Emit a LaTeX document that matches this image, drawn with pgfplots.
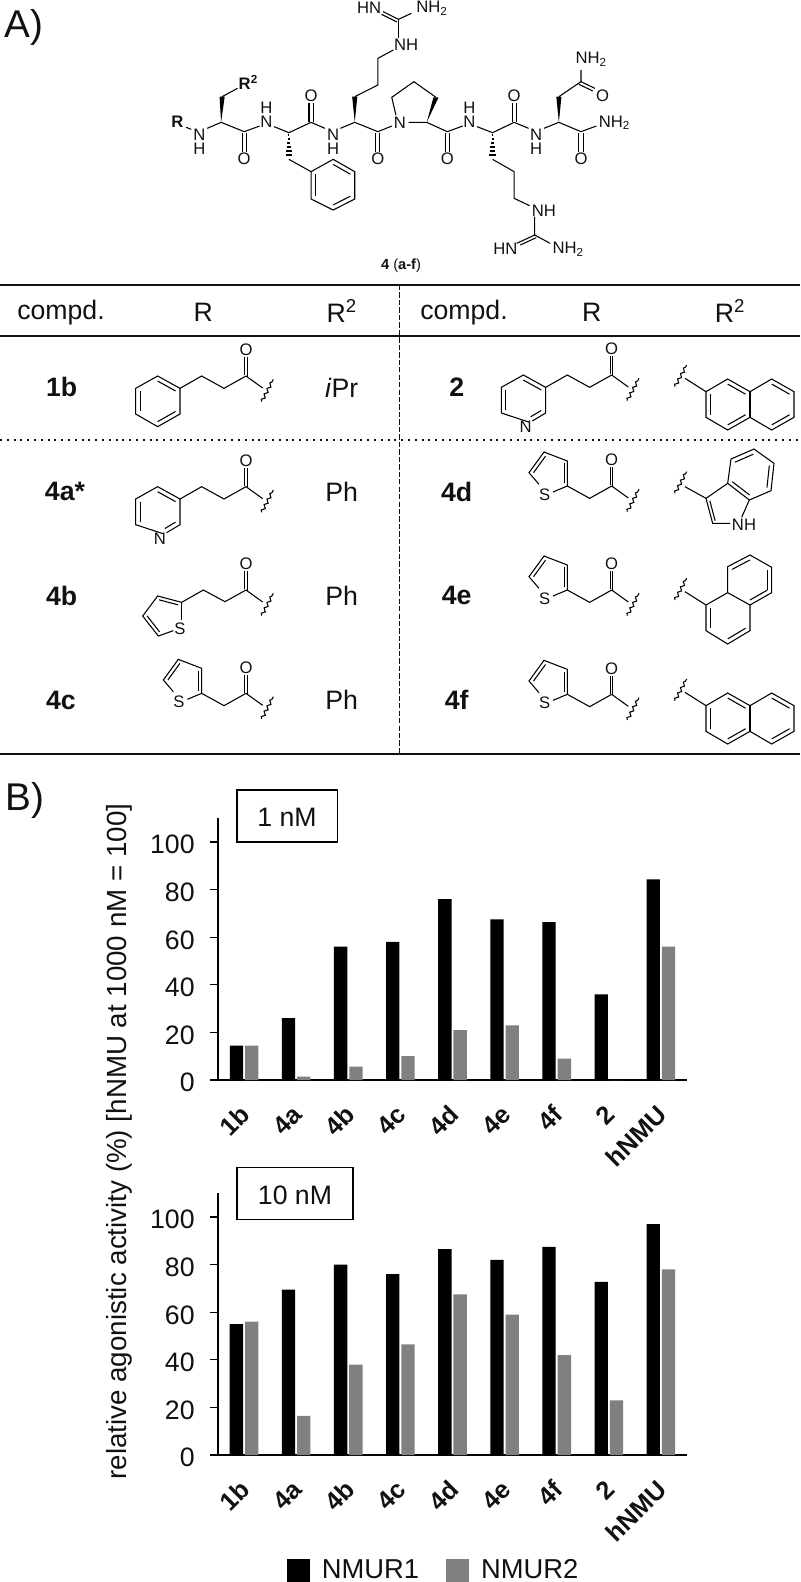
\documentclass[border=0pt]{standalone}
\usepackage{fontspec}
\setmainfont{Liberation Sans}
\usepackage{pgfplots}
\pgfplotsset{compat=1.18}
\usetikzlibrary{calc,decorations.pathmorphing}
\newcommand\fs[1]{\fontsize{#1}{#1}\selectfont}
\definecolor{barg}{HTML}{808080}
\definecolor{txt}{HTML}{111111}
\pgfplotsset{
  pan/.style={
    scale only axis, width=351.75pt, height=196.35pt,
    xmin=-0.5, xmax=8.5, ymin=0, ymax=110,
    axis y line=left, axis x line=bottom,
    axis line style={-, line width=1.2pt, black},
    xtick={0,1,2,3,4,5,6,7,8},
    xticklabels={1b,4a,4b,4c,4d,4e,4f,2,hNMU},
    x tick style={draw=none},
    ytick={0,20,40,60,80,100},
    y tick style={line width=1pt, black},
    tick align=outside, major tick length=6pt,
    /pgf/number format/assume math mode=true,
    yticklabel style={font=\fs{20}, anchor=east, xshift=-8pt, yshift=-2pt, text=txt},
    xticklabel style={font=\fs{19}\bfseries, rotate=45, anchor=east, yshift=-12.5pt, xshift=-7.5pt, text=txt},
    clip=false,
  },
  n1/.style={fill=black, draw=none, bar shift=-5.73pt},
  n2/.style={fill=barg, draw=none, bar shift=5.73pt},
}
\pgfplotstableread{
x n1 n2
0 14.4 14.4
1 26 1.4
2 56 5.6
3 58 10
4 76 21
5 67.5 23
6 66.3 9
7 36 0
8 84.3 56
}\tabA
\pgfplotstableread{
x n1 n2
0 55 56
1 69.5 16.5
2 80 38
3 76 46.5
4 86.5 67.5
5 82 59
6 87.5 42
7 72.8 23
8 97 78
}\tabB
% chem helpers (all in the units of the surrounding scope)
\newcommand\lab[3]{\node[inner sep=0pt,text=txt] at (#1,#2) {\fs{12.5}#3};}
\newcommand\inr[3]{\draw ($(#3)!.8!(#1)$) -- ($(#3)!.8!(#2)$);}
\newcommand\wavy[4]{\draw[decorate,decoration={snake,amplitude=1.1pt,segment length=4.6pt}] (#1,#2)--(#3,#4);}
\newcommand\tail[2]{\begin{scope}[shift={(#1,#2)}]
  \draw (0,0)--(50,36);
  \draw (-3.5,-2)--(-3.5,-56); \draw (3.5,2)--(3.5,-56);
  \lab{0}{-78}{O}
  \wavy{47}{77}{82}{10}
\end{scope}}
\newcommand\phen[2]{\begin{scope}[shift={(#1,#2)}]
  \draw (-198,37)--(-133,0)--(-66,37)--(0,0);
  \draw (-198,37)--(-265,0)--(-331,37)--(-331,114)--(-265,152)--(-198,114)--cycle;
  \coordinate (c) at (-265,76);
  \inr{-265,0}{-198,37}{c} \inr{-331,37}{-331,114}{c} \inr{-265,152}{-198,114}{c}
\end{scope}\tail{#1}{#2}}
\newcommand\pyr[2]{\begin{scope}[shift={(#1,#2)}]
  \draw (-198,37)--(-133,0)--(-66,37)--(0,0);
  \draw (-246,142)--(-331,114)--(-331,37)--(-265,0)--(-198,37)--(-198,114)--(-238,138);
  \coordinate (c) at (-265,76);
  \inr{-265,0}{-198,37}{c} \inr{-331,37}{-331,114}{c} \inr{-198,114}{-238,138}{c}
  \lab{-258}{155}{N}
\end{scope}\tail{#1}{#2}}
\newcommand\thio[2]{\begin{scope}[shift={(#1,#2)}]
  \draw (-133,0)--(-66,37)--(0,0);
  \draw (-176,18)--(-133,0)--(-133,-75)--(-203,-102)--(-248,-40)--(-218,-5);
  \coordinate (c) at (-180,-40);
  \inr{-133,0}{-133,-75}{c} \inr{-203,-102}{-248,-40}{c}
  \lab{-201}{25}{S}
\end{scope}\tail{#1}{#2}}
\newcommand\nap[2]{\begin{scope}[shift={(#1,#2)}]
  \wavy{825}{320}{860}{255}
  \draw (855,295)--(918,335);
  \draw (918,335)--(983,297)--(1050,335)--(1115,297)--(1182,335)--(1182,412)--(1115,450)--(1050,412)--(983,450)--(918,412)--cycle;
  \draw (1050,335)--(1050,412);
  \coordinate (c) at (984,373); \coordinate (d) at (1116,373);
  \inr{918,335}{918,412}{c} \inr{983,297}{1050,335}{c} \inr{983,450}{1050,412}{c}
  \inr{1115,297}{1182,335}{d} \inr{1115,450}{1182,412}{d}
\end{scope}}
\begin{document}
\begin{tikzpicture}
\useasboundingbox (0pt,0pt) rectangle (600pt,-1186.5pt);
% panel letters
\node[anchor=base west,inner sep=0pt,text=txt] at (3pt,-28pt) {\fs{29}A)};
\node[anchor=base west,inner sep=0pt,text=txt] at (4pt,-608pt) {\fs{29}B)};
% ---------- peptide ----------
\begin{scope}[x=0.3856pt,y=-0.25pt,line width=0.8pt]
\node[inner sep=0pt,text=txt] at (345,365) {\fs{12.5}\bfseries R};
\draw (362,382)--(372,388);
\lab{388}{403}{N}\lab{388}{447}{H}
\draw (403,385)--(430,367)--(475,395)--(505,378);
\fill (430,367)--(427,290)--(437,290)--cycle;
\draw (432,290)--(462,265);
\node[inner sep=0pt,text=txt] at (483,248) {\fs{12.5}\bfseries R\textsuperscript{2}};
\draw (471,398)--(471,455);\draw (479,398)--(479,455);
\lab{475}{477}{O}
\lab{518}{365}{N}\lab{518}{322}{H}
\draw (533,380)--(562,398)--(605,367)--(632,385);
\foreach \yy/\w in {405/1,417/2,429/3,441/4,453/5,465/6}{\draw (562-\w,\yy)--(562+\w,\yy);}
\draw (562,478)--(605,515);
\draw (605,515)--(648,478)--(690,515)--(690,597)--(648,630)--(605,597)--cycle;
\coordinate (c) at (648,554);
\inr{648,478}{690,515}{c}\inr{648,630}{690,597}{c}\inr{605,515}{605,597}{c}
\draw (601,367)--(601,310);\draw (609,367)--(609,310);
\lab{605}{288}{O}
\lab{648}{403}{N}\lab{648}{447}{H}
\draw (662,385)--(690,367)--(735,395)--(762,378);
\fill (690,367)--(685,290)--(695,290)--cycle;
\draw (690,290)--(735,255)--(735,175)--(765,150);
\lab{790}{133}{NH}
\draw (775,115)--(775,58);
\draw (775,58)--(800,40);
\draw (775,58)--(745,35);\draw (772,66)--(742,43);
\lab{718}{22}{HN}
\lab{840}{25}{NH\textsubscript{2}}
\draw (731,398)--(731,455);\draw (739,398)--(739,455);
\lab{735}{477}{O}
\lab{778}{367}{N}
\draw (770,345)--(762,292)--(805,245)--(848,292);
\fill (830,367)--(843,292)--(853,292)--cycle;
\draw (795,367)--(830,367)--(870,395)--(900,378);
\draw (866,398)--(866,455);\draw (874,398)--(874,455);
\lab{870}{477}{O}
\lab{913}{365}{N}\lab{913}{322}{H}
\draw (928,380)--(958,398)--(1000,367)--(1028,385);
\foreach \yy/\w in {405/1,417/2,429/3,441/4,453/5,465/6}{\draw (958-\w,\yy)--(958+\w,\yy);}
\draw (958,478)--(1000,515)--(1000,595)--(1030,617);
\lab{1058}{632}{NH}
\draw (1040,650)--(1040,705)--(1070,730);
\draw (1040,705)--(1005,730);\draw (1043,713)--(1012,735);
\lab{983}{745}{HN}
\lab{1105}{748}{NH\textsubscript{2}}
\draw (996,367)--(996,310);\draw (1004,367)--(1004,310);
\lab{1000}{288}{O}
\lab{1043}{403}{N}\lab{1043}{447}{H}
\draw (1058,385)--(1087,367)--(1130,395)--(1160,378);
\fill (1087,367)--(1082,290)--(1092,290)--cycle;
\draw (1087,290)--(1130,245)--(1130,210);
\lab{1150}{178}{NH\textsubscript{2}}
\draw (1130,245)--(1157,265);\draw (1126,253)--(1153,273);
\lab{1172}{287}{O}
\draw (1126,398)--(1126,455);\draw (1134,398)--(1134,455);
\lab{1130}{477}{O}
\lab{1195}{368}{NH\textsubscript{2}}
\node[inner sep=0pt,text=txt] at (780,797) {\fs{11}\textbf{4} (\textbf{a-f})};
\end{scope}
% ---------- table rules ----------
\begin{scope}[x=.75pt,y=-.75pt]
\draw[line width=1.5pt,txt] (0,285)--(800,285);
\draw[line width=1.5pt,txt] (0,336)--(800,336);
\draw[line width=1.5pt,txt] (0,754)--(800,754);
\draw[line width=1.5pt,txt,dash pattern=on 1.5pt off 3.6pt] (0,440)--(800,440);
\draw[line width=1.4pt,txt,dash pattern=on 4pt off 1.6pt] (399.5,285)--(399.5,754);
\end{scope}
% ---------- table left ----------
\begin{scope}[x=.25pt,y=-.25pt,shift={(0pt,-210pt)},line width=0.8pt]
\node[text=txt] at (183,98) {\fs{20}compd.};
\node[text=txt] at (610,96) {\fs{20}R};
\node[text=txt] at (1025,92) {\fs{20}R\textsuperscript{2}};
\node[text=txt] at (185,322) {\fs{20}\bfseries 1b};
\node[text=txt] at (195,635) {\fs{20}\textbf{4a*}};
\node[text=txt] at (185,947) {\fs{20}\bfseries 4b};
\node[text=txt] at (183,1260) {\fs{20}\bfseries 4c};
\node[text=txt] at (1025,322) {\fs{20}\textit{i}Pr};
\node[text=txt] at (1025,635) {\fs{20}Ph};
\node[text=txt] at (1025,947) {\fs{20}Ph};
\node[text=txt] at (1025,1258) {\fs{20}Ph};
\phen{738}{288}
\pyr{738}{620}
\begin{scope}[shift={(738,930)}]
\draw (-193,37)--(-128,0)--(-63,35)--(0,0);
\draw (-193,37)--(-265,18)--(-310,78)--(-263,138)--(-218,122);
\draw (-193,37)--(-193,90);
\coordinate (c) at (-245,75);
\inr{-193,37}{-265,18}{c}\inr{-310,78}{-263,138}{c}
\lab{-198}{115}{S}
\end{scope}\tail{738}{930}
\thio{738}{1240}
\end{scope}
% ---------- table right ----------
\begin{scope}[x=.25pt,y=-.25pt,shift={(300pt,-210pt)},line width=0.8pt]
\node[text=txt] at (192,98) {\fs{20}compd.};
\node[text=txt] at (575,96) {\fs{20}R};
\node[text=txt] at (990,92) {\fs{20}R\textsuperscript{2}};
\node[text=txt] at (170,322) {\fs{20}\bfseries 2};
\node[text=txt] at (170,635) {\fs{20}\bfseries 4d};
\node[text=txt] at (170,947) {\fs{20}\bfseries 4e};
\node[text=txt] at (170,1258) {\fs{20}\bfseries 4f};
\pyr{635}{285}
\thio{635}{618}
\thio{635}{930}
\thio{635}{1243}
\nap{0}{0}
\nap{0}{942}
% indole
\wavy{825}{640}{860}{575}
\draw (855,620)--(918,655)--(938,730)--(990,730);
\inr{918,655}{938,730}{975,690}
\draw (918,655)--(983,610)--(993,537)--(1062,507)--(1122,550)--(1113,632)--(1048,660)--(983,610);
\draw (1048,660)--(1025,712);
\coordinate (c) at (1052,585);
\inr{993,537}{1062,507}{c}\inr{1122,550}{1113,632}{c}\inr{983,610}{1048,660}{c}
\lab{1032}{735}{NH}
% 1-naphthyl
\wavy{825}{960}{860}{895}
\draw (855,935)--(918,975);
\draw (918,975)--(983,938)--(1050,975)--(1050,1052)--(983,1092)--(918,1052)--cycle;
\draw (983,938)--(983,860)--(1050,825)--(1115,862)--(1115,938)--(1050,975);
\coordinate (c) at (984,1015); \coordinate (d) at (1049,900);
\inr{918,975}{918,1052}{c}\inr{983,1092}{1050,1052}{c}
\inr{983,860}{1050,825}{d}\inr{1115,862}{1115,938}{d}\inr{1050,975}{1115,938}{d}
\end{scope}
% ---------- chart 1 nM ----------
\begin{axis}[pan, at={(163.5pt,-810pt)}, anchor=south west]
\addplot[ybar, n1] table[x=x,y=n1] {\tabA};
\addplot[ybar, n2] table[x=x,y=n2] {\tabA};
\end{axis}
% ---------- chart 10 nM ----------
\begin{axis}[pan, at={(163.5pt,-1091.25pt)}, anchor=south west,
  ylabel={relative agonistic activity (\%) [hNMU at 1000 nM = 100]},
  every axis y label/.style={at={(axis description cs:-0.211,1.197)},rotate=90,anchor=center,font=\fs{20.8},text=txt},
  legend columns=2,
  legend style={draw=none,fill=none,font=\fs{20.5},text=txt,at={(axis description cs:0.46,-0.44)},anchor=center,
    /tikz/every even column/.append style={column sep=18pt},
    /tikz/every odd column/.append style={column sep=7pt}},
]
\addplot[ybar, n1, legend image code/.code={\path[fill=black] (0pt,-8.7pt) rectangle (17.5pt,8.7pt);}] table[x=x,y=n1] {\tabB};
\addlegendentry{NMUR1}
\addplot[ybar, n2, legend image code/.code={\path[fill=barg] (0pt,-8.7pt) rectangle (17.5pt,8.7pt);}] table[x=x,y=n2] {\tabB};
\addlegendentry{NMUR2}
\end{axis}
% concentration boxes
\begin{scope}[x=.75pt,y=-.75pt]
\draw[line width=1.2pt,fill=white] (236.7,790) rectangle (337.5,842);
\node[text=txt] at (287,817.5) {\fs{20}1 nM};
\draw[line width=1.2pt,fill=white] (236.7,1167.3) rectangle (352.8,1219.3);
\node[text=txt] at (295,1195) {\fs{20}10 nM};
\end{scope}
\end{tikzpicture}
\end{document}
